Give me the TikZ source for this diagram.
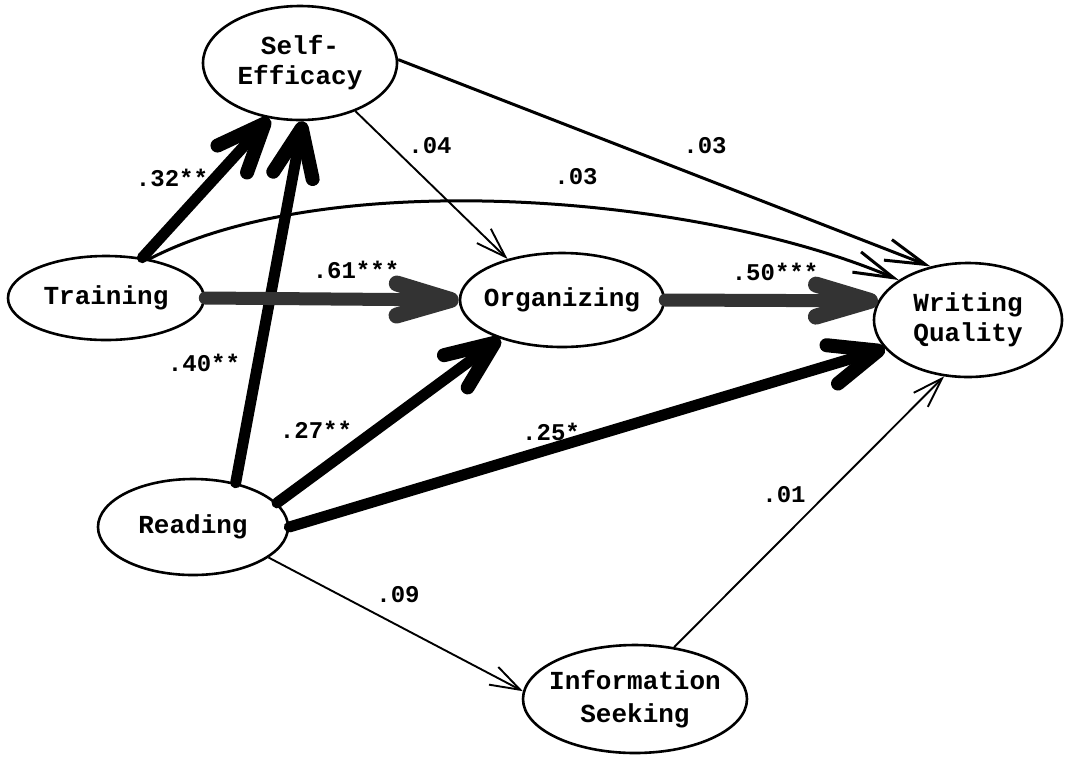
\documentclass[tikz,border=0pt]{standalone}
\usepackage{fontspec}
\newfontfamily\diagfont{Liberation Mono}
\usetikzlibrary{shapes.geometric,arrows.meta}
\begin{document}
\begin{tikzpicture}[x=1pt,y=-1pt,
  construct/.style={draw, ellipse, line width=2.6pt, inner xsep=-15pt, inner ysep=0pt,
    align=center, font=\diagfont\bfseries\fontsize{26}{30}\selectfont},
  coef/.style={inner sep=0pt, font=\diagfont\bfseries\fontsize{24}{28}\selectfont},
  weak/.style={line width=1.9pt, -{Straight Barb[length=30pt,width=20pt]}},
  medium/.style={line width=3pt, -{Straight Barb[length=40pt,width=22pt]}},
  strong/.style={line width=11pt, line cap=round,
    -{Straight Barb[length=48pt,width=40pt,round,line width=14pt]}},
  strongest/.style={line width=13pt, line cap=round, draw=black!80,
    -{Straight Barb[length=54pt,width=32pt,round,line width=16pt]}},
]
\useasboundingbox (0,0) rectangle (1065,756);

% constructs
\node[construct, minimum width=194pt, minimum height=114pt] (SE) at (300,63) {Self-\\Efficacy};
\node[construct, minimum width=196pt, minimum height=84pt]  (TR) at (106,298) {Training};
\node[construct, minimum width=204pt, minimum height=94pt]  (OR) at (562,300) {Organizing};
\node[construct, minimum width=188pt, minimum height=114pt] (WQ) at (968,320) {Writing\\Quality};
\node[construct, minimum width=190pt, minimum height=96pt]  (RD) at (193,527) {Reading};
\node[construct, minimum width=224pt, minimum height=108pt,
      font=\diagfont\bfseries\fontsize{26}{33}\selectfont] (IS) at (635,699) {Information\\Seeking};

% paths
\draw[strong] (TR.48) -- (SE.241);
\draw[strong] (RD.46) -- (SE.273);
\draw[strongest] (TR.east) -- (OR.west);
\draw[medium] (TR.42) .. controls (330,165) and (700,195) .. (WQ.150);
\draw[medium] (SE.2) -- (WQ.125);
\draw[weak] (SE.319) -- (OR.143);
\draw[strongest] (OR.east) -- (WQ.168);
\draw[strong] (RD.16) -- (OR.212);
\draw[strong] (RD.east) -- (WQ.199);
\draw[weak] (RD.338) -- (IS.176);
\draw[weak] (IS.53) -- (WQ.247);

% path coefficients
\node[coef] (c32) at (172,178) {.32**};
\node[coef] (c40) at (204,363) {.40**};
\node[coef] (c61) at (356,270) {.61***};
\node[coef] (c04) at (430,146) {.04};
\node[coef] (c03a) at (705,146) {.03};
\node[coef] (c03b) at (576,177) {.03};
\node[coef] (c50) at (775,272) {.50***};
\node[coef] (c27) at (316,430) {.27**};
\node[coef] (c25) at (551,432) {.25*};
\node[coef] (c01) at (784,495) {.01};
\node[coef] (c09) at (398,595) {.09};
\end{tikzpicture}
\end{document}
